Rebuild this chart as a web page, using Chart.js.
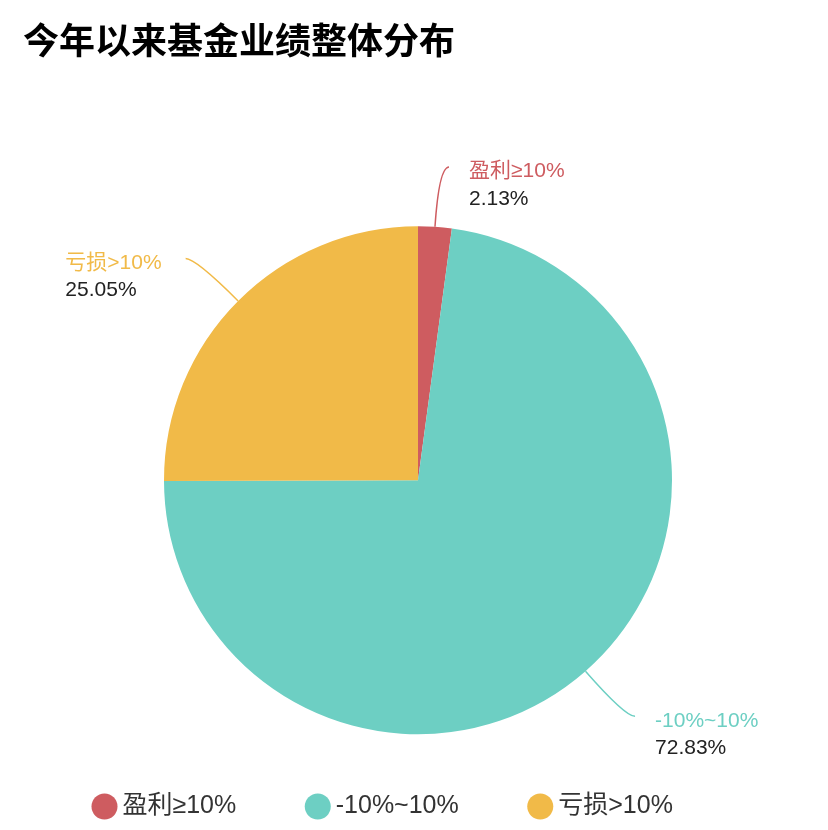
<!DOCTYPE html>
<html>
<head>
<meta charset="utf-8">
<script src="https://cdn.jsdelivr.net/npm/chart.js@4"></script>
<style>
  html, body { margin: 0; padding: 0; background: #fff; }
  #wrap { width: 828px; height: 830px; position: relative; }
</style>
</head>
<body>
<div id="wrap"><canvas id="fundChart"></canvas></div>
<script>
const titleText = "今年以来基金业绩整体分布";
const categories = ["盈利≥10%", "-10%~10%", "亏损>10%"];
const shares = [2.13, 72.83, 25.05];
const sliceColors = ["#CE5C60", "#6DCFC3", "#F1BA48"];

const FONT = "'Liberation Sans', 'Noto Sans CJK SC', sans-serif";

// outside labels with curved leader lines
const sliceLabels = {
  id: "sliceLabels",
  afterDatasetsDraw(chart) {
    const ctx = chart.ctx;
    const meta = chart.getDatasetMeta(0);
    const len1 = 60, len2 = 10;

    meta.data.forEach((arc, i) => {
      const { x, y, startAngle, endAngle, outerRadius } =
        arc.getProps(["x", "y", "startAngle", "endAngle", "outerRadius"], true);
      const mid = (startAngle + endAngle) / 2;
      const cos = Math.cos(mid), sin = Math.sin(mid);
      const p0 = { x: x + cos * outerRadius, y: y + sin * outerRadius };
      const p1 = { x: x + cos * (outerRadius + len1), y: y + sin * (outerRadius + len1) };
      const dir = cos >= 0 ? 1 : -1;
      const p2 = { x: p1.x + dir * len2, y: p1.y };

      ctx.save();
      ctx.strokeStyle = sliceColors[i];
      ctx.lineWidth = 1.5;
      ctx.beginPath();
      ctx.moveTo(p0.x, p0.y);
      ctx.quadraticCurveTo(p1.x, p1.y, p2.x, p2.y);
      ctx.stroke();

      const name = categories[i];
      const value = shares[i].toFixed(2) + "%";
      ctx.font = "21px " + FONT;
      ctx.textBaseline = "middle";
      ctx.textAlign = "left";
      const w = Math.max(ctx.measureText(name).width, ctx.measureText(value).width);
      const tx = dir > 0 ? p2.x + 20 : p2.x - 24 - w;
      const ty = p2.y + 4.5;
      ctx.fillStyle = sliceColors[i];
      ctx.fillText(name, tx, ty);
      ctx.fillStyle = "#222";
      ctx.fillText(value, tx, ty + 27.5);
      ctx.restore();
    });
  }
};

new Chart(document.getElementById("fundChart"), {
  type: "pie",
  data: {
    labels: categories,
    datasets: [{
      data: shares,
      backgroundColor: sliceColors,
      borderWidth: 0,
      hoverOffset: 0
    }]
  },
  options: {
    responsive: true,
    maintainAspectRatio: false,
    animation: false,
    radius: 254,
    layout: { padding: { top: 0, left: 23, right: 15, bottom: 1 } },
    plugins: {
      title: {
        display: true,
        text: titleText,
        align: "start",
        color: "#000",
        font: { family: "'Noto Sans CJK SC', sans-serif", size: 36, weight: "bold" },
        padding: { top: 18.9, bottom: 180.4 }
      },
      legend: {
        position: "bottom",
        align: "start",
        labels: {
          usePointStyle: true,
          pointStyle: "circle",
          boxWidth: 11,
          boxHeight: 18.4,
          padding: 76,
          color: "#333",
          font: { family: FONT, size: 25 }
        }
      },
      tooltip: { enabled: false }
    }
  },
  plugins: [sliceLabels]
});
</script>
</body>
</html>
